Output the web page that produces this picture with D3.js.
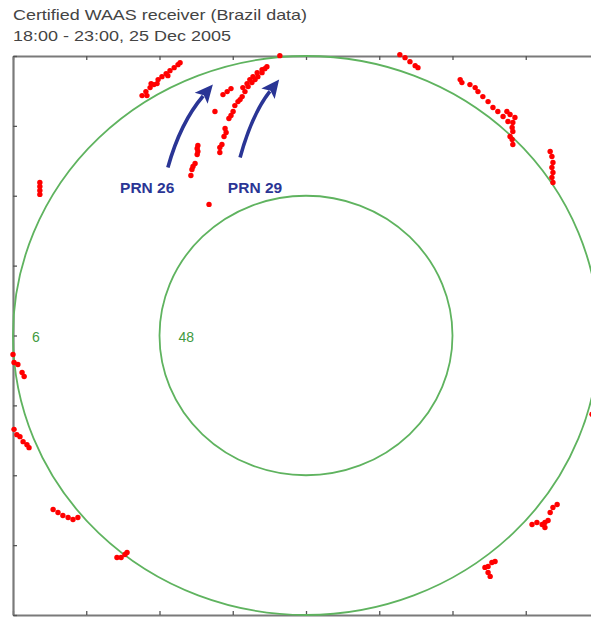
<!DOCTYPE html>
<html>
<head>
<meta charset="utf-8">
<script src="https://cdn.jsdelivr.net/npm/d3@7"></script>
<style>
  body { margin: 0; background: #fff; }
  svg { display: block; font-family: Arial, "Liberation Sans", sans-serif; }
</style>
</head>
<body>
<div id="chart"></div>
<script>
//////////////////////
//  main constants  //
//////////////////////
const WIDTH = 591;
const HEIGHT = 618;
const MARGIN = { TOP: 56, LEFT: 13, RIGHT: -8, BOTTOM: 3 };

const titleLines = ["Certified WAAS receiver (Brazil data)", "18:00 - 23:00, 25 Dec 2005"];

// sky plot: zenith-distance projection, east = x, north = y (degrees)
const axisExtent = 84;
const tickStep = 21;

// elevation mask circles: label = elevation, radius = 90 - elevation
const circleElevations = [6, 48];

// satellite passes, [east, north] in zenith-distance degrees
const passNW = [[-47.0,72.1],[-45.6,72.1],[-45.9,73.3],[-44.7,74.5],[-44.4,75.7],[-43.6,75.4],[-42.7,75.7],
  [-42.4,76.9],[-41.3,77.8],[-40.1,78.7],[-39.6,78.1],[-39.0,79.6],[-37.8,80.5],[-36.7,81.4],[-36.1,82.0]];
const prn26 = [[-33.0,48.1],[-32.7,49.9],[-32.4,50.8],[-31.8,51.7],[-31.2,54.4],[-31.0,55.3],[-31.2,56.2],
  [-31.0,57.1],[-26.1,67.3],[-23.8,72.4],[-22.6,73.3],[-21.5,74.2]];
const passB = [[-24.7,55.0],[-24.7,56.5],[-24.1,57.4],[-23.5,59.8],[-22.9,61.0],[-23.2,62.2],[-22.1,65.2],
  [-21.5,66.1],[-20.9,67.3]];
const prn29 = [[-20.4,69.1],[-19.5,70.3],[-18.9,70.9],[-18.3,71.8],[-17.5,73.3],[-16.6,74.8],[-15.5,76.0],
  [-14.6,76.9],[-13.8,77.8],[-12.6,79.0],[-11.8,80.2],[-11.2,80.8],[-18.1,74.5],[-16.9,75.7],[-16.1,76.9],
  [-15.2,77.8],[-14.0,79.0],[-12.6,79.9],[-7.5,84.1]];
const passSingle = [[-27.8,39.4]];
const passW1 = [[-76.3,46.0],[-76.3,44.8],[-76.3,43.6],[-76.3,42.4]];
const passN = [[26.9,84.4],[28.4,83.5],[29.8,82.3],[31.3,81.1],[32.1,80.5]];
const passNE = [[44.2,76.9],[44.7,76.0],[47.0,75.4],[48.5,74.5],[49.3,73.3],[50.7,71.8],[52.2,70.3],
  [53.6,68.5],[55.0,67.3],[56.5,65.8],[57.6,67.3],[58.5,66.4],[59.9,65.5],[57.9,64.3],[59.3,64.0],
  [59.1,62.5],[59.3,61.3],[58.5,59.8],[59.1,58.9],[59.3,57.4]];
const passE = [[70.0,55.3],[70.5,53.8],[70.8,52.0],[70.5,50.5],[70.8,49.0],[70.5,47.5],[70.8,46.0]];
const passW2 = [[-84.0,-5.7],[-83.7,-8.1],[-82.6,-8.7],[-81.4,-11.1],[-80.8,-12.3]];
const passW3 = [[-83.7,-28.2],[-82.9,-29.8],[-82.0,-30.4],[-81.1,-31.9],[-80.0,-32.8],[-79.4,-33.7]];
const passSW1 = [[-72.5,-52.3],[-71.1,-53.2],[-69.7,-54.1],[-68.2,-54.7],[-66.8,-55.3],[-65.4,-54.7]];
const passSW2 = [[-54.2,-66.7],[-53.0,-66.7],[-51.9,-65.8],[-51.3,-65.2]];
const passSE1 = [[72.0,-50.8],[70.8,-51.7],[70.0,-53.2],[69.4,-55.6],[68.5,-56.2],[67.7,-56.8],
  [66.2,-56.2],[64.8,-56.8],[68.5,-57.7]];
const passSE2 = [[54.2,-67.9],[53.3,-68.2],[52.2,-69.4],[51.3,-69.7],[52.2,-71.2],[52.8,-72.4]];
const passEdge = [[82.0,-23.7]];

const passes = [passNW, prn26, passB, prn29, passSingle, passW1, passN, passNE, passE,
  passW2, passW3, passSW1, passSW2, passSE1, passSE2, passEdge];

// annotation arrows: tail, control, tip, label anchor (zenith-distance degrees)
const arrows = [
  { label: "PRN 26", tail: [-39.6, 50.5], ctrl: [-36.0, 64.0], tip: [-26.7, 75.4], text: [-53.3, 42.7] },
  { label: "PRN 29", tail: [-18.9, 53.5], ctrl: [-15.5, 66.5], tip: [-7.7, 76.9], text: [-22.4, 42.7] }
];

const widthPlot = 586;
const heightPlot = 559;

///////////////////////
//  build the svg    //
///////////////////////
const SVG = d3.select("#chart").append("svg")
  .attr("width", WIDTH)
  .attr("height", HEIGHT);

SVG.append("g")
  .selectAll("text")
  .data(titleLines)
  .join("text")
  .attr("x", 13)
  .attr("y", (d, i) => 20 + i * 21)
  .attr("font-size", 15)
  .attr("fill", "#444")
  .attr("textLength", (d, i) => i === 0 ? 294 : 218)
  .attr("lengthAdjust", "spacingAndGlyphs")
  .text(d => d);

const x = d3.scaleLinear().domain([-axisExtent, axisExtent]).range([MARGIN.LEFT, MARGIN.LEFT + widthPlot]);
const y = d3.scaleLinear().domain([-axisExtent, axisExtent]).range([MARGIN.TOP + heightPlot, MARGIN.TOP]);

const ticks = d3.range(-axisExtent, axisExtent + 1, tickStep);

//////////////////
//  axes frame  //
//////////////////
function styleAxis(g) {
  g.select(".domain").attr("stroke", "#7a7a7a").attr("stroke-width", 2.2);
  g.selectAll(".tick line").attr("stroke", "#555").attr("stroke-width", 1.3);
  g.selectAll(".tick text").remove();
}

SVG.append("g").attr("transform", `translate(0,${y(axisExtent)})`)
  .call(d3.axisTop(x).tickValues(ticks).tickSizeInner(-4).tickSizeOuter(0).tickFormat(""))
  .call(styleAxis);
SVG.append("g").attr("transform", `translate(0,${y(-axisExtent)})`)
  .call(d3.axisBottom(x).tickValues(ticks).tickSizeInner(-4).tickSizeOuter(0).tickFormat(""))
  .call(styleAxis);
SVG.append("g").attr("transform", `translate(${x(-axisExtent)},0)`)
  .call(d3.axisLeft(y).tickValues(ticks).tickSizeInner(-4).tickSizeOuter(0).tickFormat(""))
  .call(styleAxis);
SVG.append("g").attr("transform", `translate(${x(axisExtent)},0)`)
  .call(d3.axisRight(y).tickValues(ticks).tickSizeInner(-4).tickSizeOuter(0).tickFormat(""))
  .call(styleAxis);

/////////////////////////
//  elevation circles  //
/////////////////////////
const circles = SVG.append("g");
circles.selectAll("ellipse")
  .data(circleElevations)
  .join("ellipse")
  .attr("cx", x(0))
  .attr("cy", y(0))
  .attr("rx", d => x(90 - d) - x(0))
  .attr("ry", d => y(0) - y(90 - d))
  .attr("fill", "none")
  .attr("stroke", "#5fb35f")
  .attr("stroke-width", 1.8);

circles.selectAll("text")
  .data(circleElevations)
  .join("text")
  .attr("x", d => x(-(90 - d)) + 19)
  .attr("y", y(0) + 6)
  .attr("font-size", 14)
  .attr("fill", "#3f9a3f")
  .text(d => d);

//////////////////////
//  satellite dots  //
//////////////////////
SVG.append("g")
  .selectAll("circle")
  .data(passes.flat())
  .join("circle")
  .attr("cx", d => x(d[0]))
  .attr("cy", d => y(d[1]))
  .attr("r", 2.7)
  .attr("fill", "#ff0000");

////////////////////////
//  PRN annotations   //
////////////////////////
const navy = "#2a3595";
const ann = SVG.append("g");

arrows.forEach(a => {
  const t = [x(a.tail[0]), y(a.tail[1])];
  const c = [x(a.ctrl[0]), y(a.ctrl[1])];
  const p = [x(a.tip[0]), y(a.tip[1])];
  // direction at the tip
  const dx = p[0] - c[0], dy = p[1] - c[1];
  const len = Math.hypot(dx, dy);
  const ux = dx / len, uy = dy / len;
  const headL = 18, headW = 8.5;
  const base = [p[0] - ux * headL, p[1] - uy * headL];

  const path = d3.path();
  path.moveTo(t[0], t[1]);
  path.quadraticCurveTo(c[0], c[1], base[0] + ux * 3, base[1] + uy * 3);
  ann.append("path")
    .attr("d", path.toString())
    .attr("fill", "none")
    .attr("stroke", navy)
    .attr("stroke-width", 3.6);

  ann.append("path")
    .attr("d", `M${p[0]},${p[1]}L${base[0] - uy * headW},${base[1] + ux * headW}L${base[0] + ux * 4},${base[1] + uy * 4}L${base[0] + uy * headW},${base[1] - ux * headW}Z`)
    .attr("fill", navy);

  ann.append("text")
    .attr("x", x(a.text[0]))
    .attr("y", y(a.text[1]))
    .attr("font-size", 15.5)
    .attr("font-weight", "bold")
    .attr("fill", navy)
    .text(a.label);
});
</script>
</body>
</html>
